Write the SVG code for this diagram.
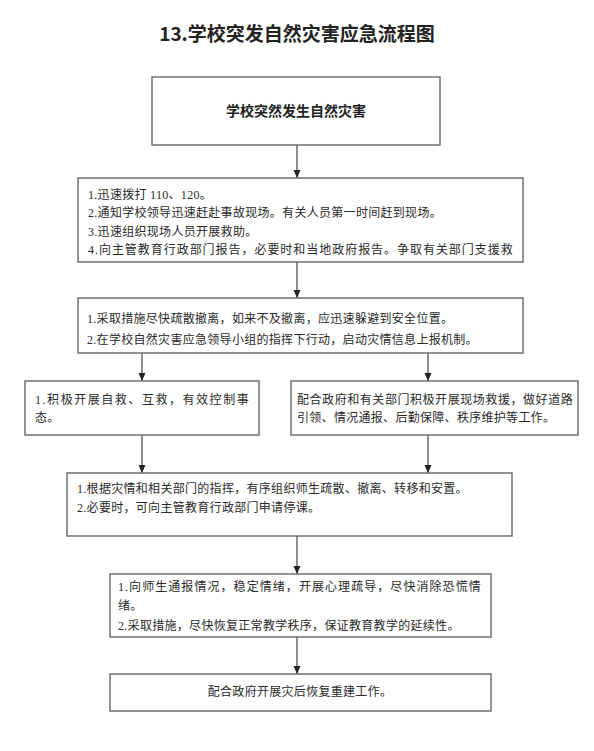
<svg xmlns="http://www.w3.org/2000/svg" width="594" height="751" viewBox="0 0 594 751">
<defs>
<marker id="ah" viewBox="0 0 8 8" refX="8" refY="4" markerWidth="8" markerHeight="8" markerUnits="userSpaceOnUse" orient="auto">
<path d="M0,0.5 L8,4 L0,7.5 Z" fill="#222"/>
</marker>
<style>
.box{fill:#fff;stroke:#666;stroke-width:1.4}
.t{font-family:"Liberation Serif","Noto Sans CJK SC",serif;font-size:12px;fill:#2a2a2a;letter-spacing:0.3px}
.b{font-family:"Noto Sans CJK SC",sans-serif;font-weight:bold;fill:#222}
.c{stroke:#333;stroke-width:1.1;fill:none;marker-end:url(#ah)}
</style>
</defs>
<rect width="594" height="751" fill="#fff"/>
<text class="b" x="297" y="41" font-size="19" text-anchor="middle">13.学校突发自然灾害应急流程图</text>
<g id="connectors">
<line class="c" x1="297" y1="145" x2="297" y2="178"/>
<line class="c" x1="297" y1="262" x2="297" y2="298"/>
<line class="c" x1="142" y1="353" x2="142" y2="381"/>
<line class="c" x1="428" y1="353" x2="428" y2="381"/>
<line class="c" x1="142" y1="435" x2="142" y2="473"/>
<line class="c" x1="428" y1="435" x2="428" y2="473"/>
<line class="c" x1="297" y1="536" x2="297" y2="574"/>
<line class="c" x1="297" y1="637" x2="297" y2="674"/>
</g>
<g id="n1">
<rect class="box" x="152" y="77" width="288" height="68"/>
<text class="b" x="296" y="116" font-size="14" text-anchor="middle">学校突然发生自然灾害</text>
</g>
<g id="n2">
<rect class="box" x="78" y="178" width="445" height="84"/>
<text class="t" x="88" y="198.5">1.迅速拨打 110、120。</text>
<text class="t" x="88" y="217">2.通知学校领导迅速赶赴事故现场。有关人员第一时间赶到现场。</text>
<text class="t" x="88" y="235.5">3.迅速组织现场人员开展救助。</text>
<text class="t" x="88" y="254" textLength="425" lengthAdjust="spacing">4.向主管教育行政部门报告，必要时和当地政府报告。争取有关部门支援救</text>
</g>
<g id="n3">
<rect class="box" x="78" y="298" width="445" height="55"/>
<text class="t" x="87" y="322.5">1.采取措施尽快疏散撤离，如来不及撤离，应迅速躲避到安全位置。</text>
<text class="t" x="87" y="343.5">2.在学校自然灾害应急领导小组的指挥下行动，启动灾情信息上报机制。</text>
</g>
<g id="n4">
<rect class="box" x="25" y="381" width="234" height="54"/>
<text class="t" x="35" y="403.5" textLength="214" lengthAdjust="spacing">1.积极开展自救、互救，有效控制事</text>
<text class="t" x="35" y="421.5">态。</text>
</g>
<g id="n5">
<rect class="box" x="291" y="381" width="287" height="54"/>
<text class="t" x="297" y="403.5" textLength="276" lengthAdjust="spacing">配合政府和有关部门积极开展现场救援，做好道路</text>
<text class="t" x="297" y="421.5">引领、情况通报、后勤保障、秩序维护等工作。</text>
</g>
<g id="n6">
<rect class="box" x="67" y="473" width="445" height="63"/>
<text class="t" x="77" y="492.5">1.根据灾情和相关部门的指挥，有序组织师生疏散、撤离、转移和安置。</text>
<text class="t" x="77" y="511.5">2.必要时，可向主管教育行政部门申请停课。</text>
</g>
<g id="n7">
<rect class="box" x="110" y="574" width="381" height="63"/>
<text class="t" x="118" y="590.5" textLength="363" lengthAdjust="spacing">1.向师生通报情况，稳定情绪，开展心理疏导，尽快消除恐慌情</text>
<text class="t" x="118" y="610">绪。</text>
<text class="t" x="118" y="629.5">2.采取措施，尽快恢复正常教学秩序，保证教育教学的延续性。</text>
</g>
<g id="n8">
<rect class="box" x="110" y="674" width="381" height="37"/>
<text class="t" x="300" y="695.5" text-anchor="middle">配合政府开展灾后恢复重建工作。</text>
</g>
</svg>
